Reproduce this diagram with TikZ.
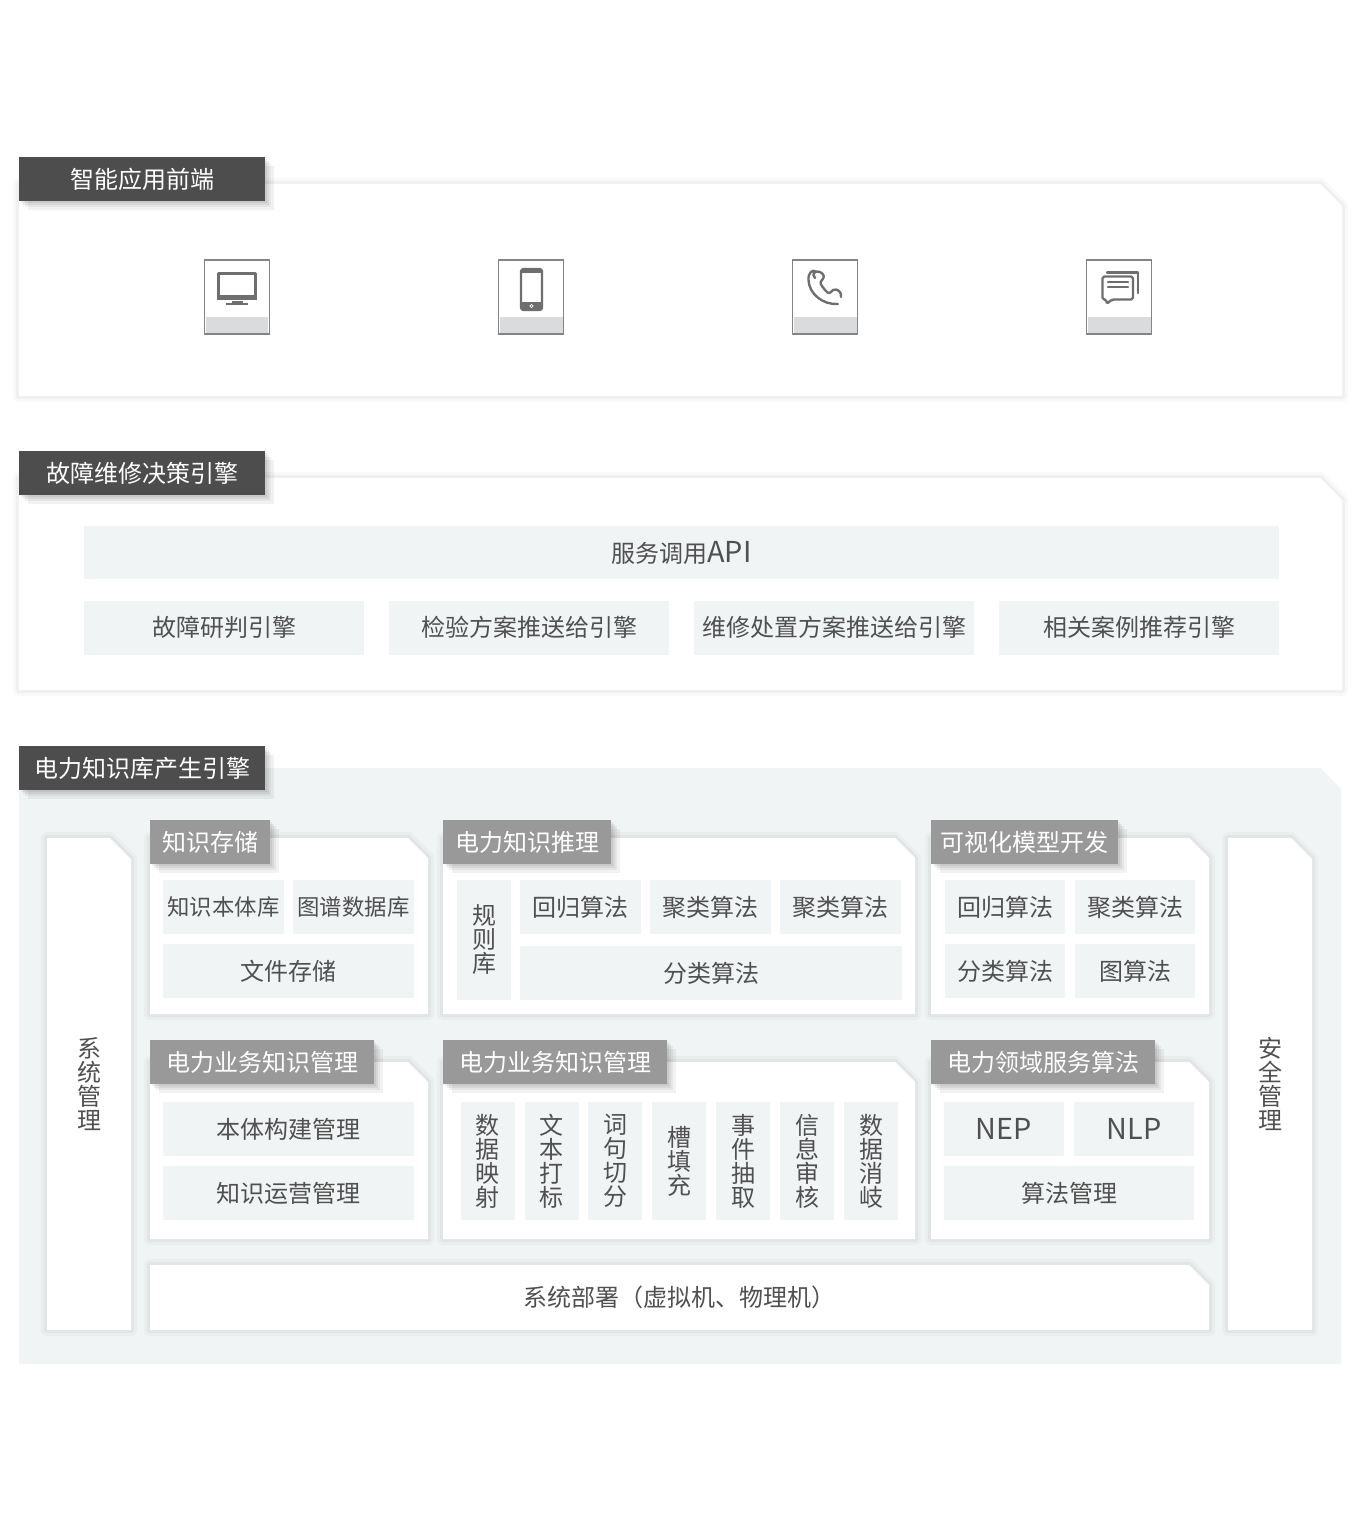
\documentclass[tikz,border=0pt]{standalone}
\usepackage{fontspec}
\setmainfont{Noto Sans CJK SC}
\definecolor{kbdark}{HTML}{4D4D4D}
\definecolor{kbmid}{HTML}{999999}
\definecolor{kbpale}{HTML}{F1F4F5}
\definecolor{kbtext}{HTML}{505050}
\definecolor{kbicon}{HTML}{6E6E6E}
\definecolor{kbband}{HTML}{DADBDC}
\newcommand{\latin}[1]{{\fontsize{16.4pt}{16.4pt}\selectfont #1}}

\begin{document}
\begin{tikzpicture}[
    x=0.02cm, y=-0.02cm,
    txt/.style={font=\fontsize{13.66pt}{13.66pt}\selectfont, text=kbtext, inner sep=0pt, align=center},
    tight/.style={font=\fontsize{12.75pt}{12.75pt}\selectfont},
    card/.style={fill=white,
      preaction={draw=black, draw opacity=0.025, line width=7pt, line join=round},
      preaction={draw=black, draw opacity=0.035, line width=3.6pt, line join=round}},
    softshadow/.style={
      preaction={fill=black, fill opacity=0.05, transform canvas={xshift=5pt, yshift=-5pt}},
      preaction={fill=black, fill opacity=0.05, transform canvas={xshift=3.6pt, yshift=-3.6pt}},
      preaction={fill=black, fill opacity=0.06, transform canvas={xshift=2.2pt, yshift=-2.2pt}},
      preaction={fill=black, fill opacity=0.06, transform canvas={xshift=1pt, yshift=-1pt}}},
    tagdark/.style={txt, text=white, fill=kbdark, minimum width=4.92cm, minimum height=0.88cm, softshadow},
    taglight/.style={txt, text=white, fill=kbmid, minimum height=0.88cm, softshadow},
    cell/.style={txt, fill=kbpale, minimum width=2.42cm, minimum height=1.08cm},
    vcell/.style={txt, fill=kbpale, minimum width=1.08cm, minimum height=2.36cm},
    side/.style={txt},
    iconbox/.style={draw=kbicon!85, line width=0.9pt, fill=white, minimum width=1.3cm, minimum height=1.48cm, inner sep=0pt},
    iconband/.style={fill=kbband, minimum width=1.26cm, minimum height=0.34cm, inner sep=0pt},
    glyph/.style={draw=kbicon, line width=1.35pt, line cap=round, line join=round},
    glyphfill/.style={fill=kbicon}
  ]
  \useasboundingbox (0,0) rectangle (1360,1520);
  \fill[white] (0,0) rectangle (1360,1520);

  % Front end
  \path[card] (19,184) -- (1320,184) -- (1342,206) -- (1342,396) -- (19,396) -- cycle;
  \node[tagdark] (tagFront) at (142,179) {智能应用前端};
  \node[iconbox] (boxPc) at (237,297) {};
  \node[iconband] (bandPc) at (237,325) {};
  \node[iconbox] (boxMobile) at (531,297) {};
  \node[iconband] (bandMobile) at (531,325) {};
  \node[iconbox] (boxPhone) at (825,297) {};
  \node[iconband] (bandPhone) at (825,325) {};
  \node[iconbox] (boxChat) at (1119,297) {};
  \node[iconband] (bandChat) at (1119,325) {};

  % Icons
  \draw[glyph] (218.5,295) -- (218.5,273.5) -- (255.5,273.5) -- (255.5,295);
  \fill[glyphfill] (217,295) rectangle (257,300);
  \fill[glyphfill] (232,301) rectangle (243,303);
  \fill[glyphfill] (226,303) rectangle (248,305);
  \draw[glyph, rounded corners=1.5pt] (521,269) rectangle (542,310);
  \fill[glyphfill] (521,269) rectangle (542,273);
  \fill[glyphfill] (521,302) rectangle (542,310);
  \draw[white, line width=0.4pt] (531.5,306) circle (1.6);
  \draw[glyph] (815,278) .. controls (811,274) and (815,270) .. (820,272) .. controls (824,274) and (825,277) .. (822,280) .. controls (819,283) and (821,285) .. (825,290) .. controls (829,295) and (830,293) .. (833,290) .. controls (837,288) and (842,292) .. (841,297)
    (808.5,280) .. controls (808,272) and (813,270) .. (815,271)
    (808.5,280) .. controls (809,294) and (823,305) .. (838,304);
  \draw[glyph] (1107,272.5) -- (1138,272.5) -- (1138,293);
  \draw[glyph, rounded corners=1pt] (1133,276.5) -- (1133,299.5) -- (1112,299.5) -- (1106.5,304) -- (1106.5,299.5) -- (1102.5,299.5) -- (1102.5,276.5) -- cycle;
  \draw[glyph] (1108,282) -- (1128,282);
  \draw[glyph] (1108,287) -- (1128,287);

  % Decision engine
  \path[card] (19,478) -- (1320,478) -- (1342,500) -- (1342,690) -- (19,690) -- cycle;
  \node[tagdark] (tagDecision) at (142,473) {故障维修决策引擎};
  \node[cell, minimum width=23.9cm] (cellApi) at (681.5,552.5) {服务调用\latin{API}};
  \node[cell, minimum width=5.6cm] (cellJudge) at (224,627.5) {故障研判引擎};
  \node[cell, minimum width=5.6cm] (cellCheck) at (529,627.5) {检验方案推送给引擎};
  \node[cell, minimum width=5.6cm] (cellRepair) at (834,627.5) {维修处置方案推送给引擎};
  \node[cell, minimum width=5.6cm] (cellCase) at (1139,627.5) {相关案例推荐引擎};

  % Knowledge base engine
  \fill[kbpale] (19,768) -- (1320,768) -- (1341,789) -- (1341,1364) -- (19,1364) -- cycle;
  \node[tagdark] (tagBase) at (142,768) {电力知识库产生引擎};

  % Side columns
  \path[card] (47,838) -- (110,838) -- (131,859) -- (131,1330) -- (47,1330) -- cycle;
  \node[side] (sideSystem) at (89,1084) {系\\统\\管\\理};
  \path[card] (1228,838) -- (1291,838) -- (1312,859) -- (1312,1330) -- (1228,1330) -- cycle;
  \node[side] (sideSafe) at (1270,1084) {安\\全\\管\\理};

  % Upper row
  \path[card] (150,838) -- (408,838) -- (428,858) -- (428,1014) -- (150,1014) -- cycle;
  \node[taglight, minimum width=2.4cm] (tagStore) at (210,842) {知识存储};
  \node[cell, tight] (cellOnto) at (223.5,907) {知识本体库};
  \node[cell, tight] (cellGraph) at (353.5,907) {图谱数据库};
  \node[cell, minimum width=5.02cm] (cellFile) at (288.5,971) {文件存储};

  \path[card] (443,838) -- (895,838) -- (915,858) -- (915,1014) -- (443,1014) -- cycle;
  \node[taglight, minimum width=3.36cm] (tagInfer) at (527,842) {电力知识推理};
  \node[vcell, minimum height=2.4cm] (cellRule) at (484,940) {规\\则\\库};
  \node[cell] (cellReg) at (580.5,907) {回归算法};
  \node[cell] (cellClusterA) at (710.5,907) {聚类算法};
  \node[cell] (cellClusterB) at (840.5,907) {聚类算法};
  \node[cell, minimum width=7.64cm] (cellClass) at (711,973) {分类算法};

  \path[card] (931,838) -- (1189,838) -- (1209,858) -- (1209,1014) -- (931,1014) -- cycle;
  \node[taglight, minimum width=3.74cm] (tagVisual) at (1024.5,842) {可视化模型开发};
  \node[cell, minimum width=2.4cm] (cellVisReg) at (1005,907) {回归算法};
  \node[cell, minimum width=2.4cm] (cellVisCluster) at (1135,907) {聚类算法};
  \node[cell, minimum width=2.4cm] (cellVisClass) at (1005,971) {分类算法};
  \node[cell, minimum width=2.4cm] (cellVisGraph) at (1135,971) {图算法};

  % Lower row
  \path[card] (150,1062) -- (408,1062) -- (428,1082) -- (428,1239) -- (150,1239) -- cycle;
  \node[taglight, minimum width=4.48cm] (tagManage) at (262,1062) {电力业务知识管理};
  \node[cell, minimum width=5.02cm] (cellBuild) at (288.5,1129) {本体构建管理};
  \node[cell, minimum width=5.02cm] (cellRun) at (288.5,1193) {知识运营管理};

  \path[card] (443,1062) -- (895,1062) -- (915,1082) -- (915,1239) -- (443,1239) -- cycle;
  \node[taglight, minimum width=4.48cm] (tagManageB) at (555,1062) {电力业务知识管理};
  \node[vcell] (cellMap) at (487.5,1161) {数\\据\\映\\射};
  \node[vcell] (cellMark) at (551.5,1161) {文\\本\\打\\标};
  \node[vcell] (cellCut) at (615,1161) {词\\句\\切\\分};
  \node[vcell] (cellSlot) at (679,1161) {槽\\填\\充};
  \node[vcell] (cellEvent) at (743,1161) {事\\件\\抽\\取};
  \node[vcell] (cellAudit) at (807,1161) {信\\息\\审\\核};
  \node[vcell] (cellDisamb) at (871,1161) {数\\据\\消\\岐};

  \path[card] (931,1062) -- (1189,1062) -- (1209,1082) -- (1209,1239) -- (931,1239) -- cycle;
  \node[taglight, minimum width=4.48cm] (tagService) at (1043,1062) {电力领域服务算法};
  \node[cell, minimum width=2.4cm] (cellNep) at (1004,1129) {\latin{NEP}};
  \node[cell, minimum width=2.4cm] (cellNlp) at (1134,1129) {\latin{NLP}};
  \node[cell, minimum width=5cm] (cellAlgo) at (1069,1193) {算法管理};

  % Deployment
  \path[card] (150,1265) -- (1189,1265) -- (1209,1285) -- (1209,1330) -- (150,1330) -- cycle;
  \node[txt] (textDeploy) at (679,1297) {系统部署（虚拟机、物理机）};
\end{tikzpicture}
\end{document}
